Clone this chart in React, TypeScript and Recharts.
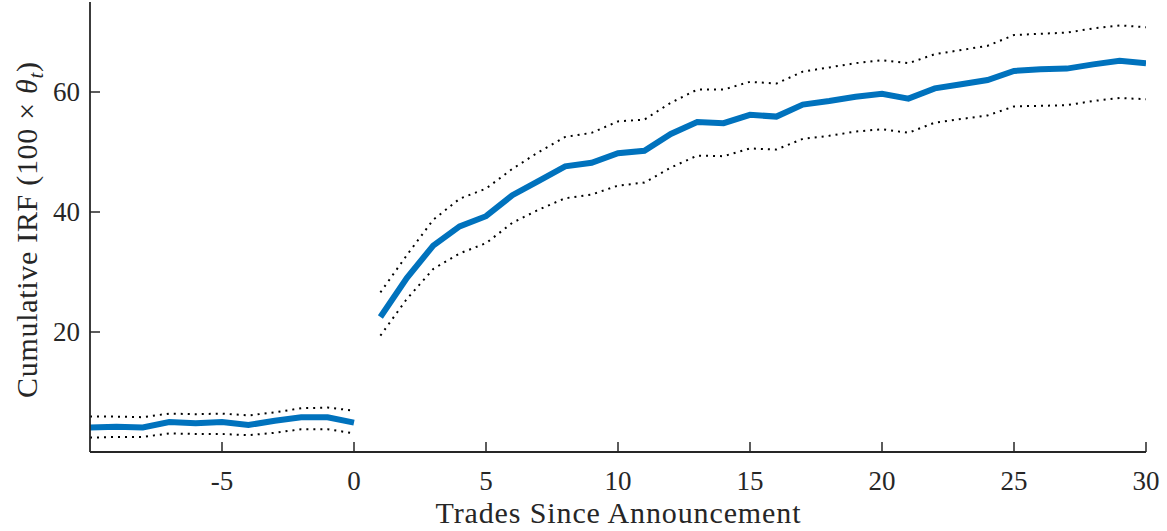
import { LineChart, Line, XAxis, YAxis, Label } from "recharts";

// Trades relative to the announcement
const preTrades = [-10, -9, -8, -7, -6, -5, -4, -3, -2, -1, 0];
const postTrades = [
    1, 2, 3, 4, 5, 6, 7, 8, 9, 10, 11, 12, 13, 14, 15,
    16, 17, 18, 19, 20, 21, 22, 23, 24, 25, 26, 27, 28, 29, 30,
];

// Cumulative IRF before the announcement (point estimate + bands)
const preMean = [4.1, 4.2, 4.1, 5.0, 4.8, 5.0, 4.5, 5.2, 5.8, 5.8, 4.9];
const preUpper = [5.9, 5.9, 5.8, 6.4, 6.3, 6.4, 6.1, 6.6, 7.3, 7.4, 6.9];
const preLower = [2.4, 2.5, 2.5, 3.1, 3.0, 3.0, 2.8, 3.2, 3.8, 3.8, 3.1];

// Cumulative IRF after the announcement
const postMean = [
    22.5, 29.0, 34.4, 37.6, 39.3, 42.8, 45.2, 47.6, 48.2, 49.8,
    50.2, 53.0, 55.0, 54.8, 56.2, 55.9, 57.9, 58.5, 59.2, 59.7,
    58.9, 60.6, 61.3, 62.0, 63.5, 63.8, 63.9, 64.6, 65.2, 64.8,
];
const postUpper = [
    26.6, 32.8, 38.7, 42.2, 43.9, 47.2, 50.0, 52.5, 53.2, 55.1,
    55.4, 58.2, 60.4, 60.4, 61.7, 61.4, 63.4, 64.1, 64.8, 65.3,
    64.8, 66.3, 67.0, 67.7, 69.5, 69.7, 69.9, 70.6, 71.1, 70.8,
];
const postLower = [
    19.4, 25.5, 30.5, 33.1, 34.8, 38.2, 40.4, 42.3, 42.9, 44.4,
    44.9, 47.4, 49.4, 49.3, 50.6, 50.4, 52.2, 52.7, 53.4, 53.8,
    53.2, 54.9, 55.5, 56.1, 57.6, 57.7, 57.8, 58.5, 59.0, 58.8,
];

const xTicks = [-5, 0, 5, 10, 15, 20, 25, 30];
const yTicks = [20, 40, 60];

const axisColor = "#262626";
const font = "Liberation Serif";

const data = [
    ...preTrades.map((t, i) => ({ t, preMean: preMean[i], preUpper: preUpper[i], preLower: preLower[i] })),
    ...postTrades.map((t, i) => ({ t, postMean: postMean[i], postUpper: postUpper[i], postLower: postLower[i] })),
];

const textStyle = { fontFamily: font, fill: axisColor };

// inward ticks, label below
const XTick = ({ x, y, payload }: any) => (
    <g>
        <line x1={x} y1={y} x2={x} y2={y - 10} stroke={axisColor} strokeWidth={1.5} />
        <text x={x} y={y + 38} textAnchor="middle" style={{ ...textStyle, fontSize: 27 }}>
            {payload.value}
        </text>
    </g>
);

const YTick = ({ x, y, payload }: any) => (
    <g>
        <line x1={x} y1={y} x2={x + 10} y2={y} stroke={axisColor} strokeWidth={1.5} />
        <text x={x - 10} y={y} dy="0.34em" textAnchor="end" style={{ ...textStyle, fontSize: 27 }}>
            {payload.value}
        </text>
    </g>
);

const XTitle = () => (
    <text x={618} y={523} textAnchor="middle" style={{ ...textStyle, fontSize: 30 }}
        textLength={365} lengthAdjust="spacing">
        Trades Since Announcement
    </text>
);

const YTitle = () => (
    <text x={37} y={230} transform="rotate(-90, 37, 230)" textAnchor="middle"
        style={{ ...textStyle, fontSize: 30 }} textLength={336} lengthAdjust="spacing">
        Cumulative IRF (100 × <tspan fontStyle="italic">θ</tspan>
        <tspan fontStyle="italic" fontSize={21} dy={6}>t</tspan>
        <tspan dy={-6}>)</tspan>
    </text>
);

export default function App() {
    const dotted = { stroke: "#000", strokeWidth: 2, strokeDasharray: "2 5", dot: false, isAnimationActive: false };
    const solid = { stroke: "#0072BD", strokeWidth: 6, dot: false, isAnimationActive: false };

    return (
        <div style={{ position: "absolute", left: 0, top: 0, background: "#fff" }}>
            <LineChart width={1167} height={531} data={data} margin={{ top: 2, right: 21, bottom: 0, left: 0 }}>
                <XAxis
                    dataKey="t"
                    type="number"
                    domain={[-10, 30]}
                    ticks={xTicks}
                    height={79}
                    tickSize={0}
                    tickMargin={0}
                    tickLine={false}
                    axisLine={{ stroke: axisColor, strokeWidth: 1.8 }}
                    tick={<XTick />}
                    allowDataOverflow
                >
                    <Label content={<XTitle />} />
                </XAxis>
                <YAxis
                    type="number"
                    domain={[0, 75]}
                    ticks={yTicks}
                    width={90}
                    tickSize={0}
                    tickMargin={0}
                    tickLine={false}
                    axisLine={{ stroke: axisColor, strokeWidth: 1.8 }}
                    tick={<YTick />}
                    allowDataOverflow
                >
                    <Label content={<YTitle />} />
                </YAxis>

                <Line dataKey="preUpper" {...dotted} />
                <Line dataKey="preLower" {...dotted} />
                <Line dataKey="postUpper" {...dotted} />
                <Line dataKey="postLower" {...dotted} />
                <Line dataKey="preMean" {...solid} />
                <Line dataKey="postMean" {...solid} />
            </LineChart>
        </div>
    );
}
